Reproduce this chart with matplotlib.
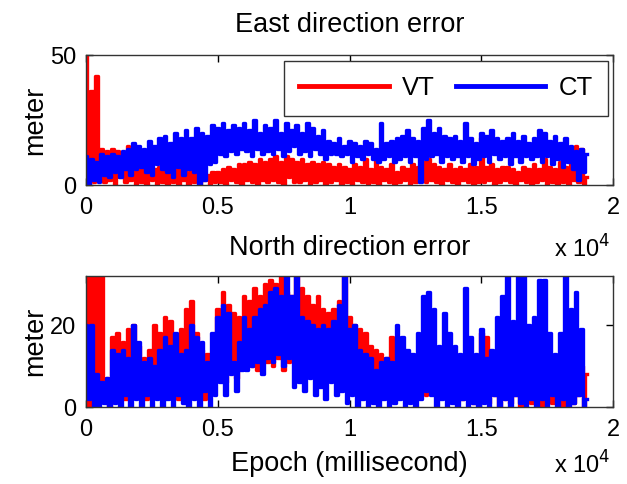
import numpy as np
import matplotlib
matplotlib.use("Agg")
import matplotlib.pyplot as plt

plt.rcParams['font.family'] = ['Liberation Sans', 'DejaVu Sans']

# ---- data (epoch in ms, 100 ms spacing, errors in meters) ----
epoch_step = 100
series_names = ["VT", "CT"]

east_vt = [
    50, 3, 36, 1, 42, 6, 14, 1, 13, 2,
    14, 0, 13, 3, 12, 1, 15, 2, 13, 0,
    9, 1, 7, 0, 8, 2, 6, 0, 7, 1,
    8, 0, 6, 1, 9, 0, 7, 2, 5, 0,
    8, 1, 6, 0, 7, 2, 4, 0, 5, 1,
    5, 1, 6, 0, 7, 2, 6, 1, 8, 0,
    8, 2, 9, 1, 8, 0, 10, 2, 9, 1,
    10, 2, 11, 1, 9, 0, 11, 3, 10, 1,
    9, 1, 10, 2, 8, 0, 9, 1, 8, 2,
    9, 0, 8, 1, 7, 2, 8, 0, 7, 1,
    6, 0, 8, 2, 7, 1, 10, 0, 6, 1,
    11, 0, 7, 2, 6, 1, 8, 0, 5, 1,
    7, 2, 6, 0, 8, 1, 7, 3, 9, 1,
    10, 2, 8, 1, 7, 0, 6, 2, 8, 1,
    6, 0, 7, 2, 6, 1, 8, 0, 7, 1,
    18, 1, 7, 2, 8, 0, 6, 1, 7, 2,
    7, 1, 6, 0, 5, 2, 7, 1, 6, 0,
    8, 1, 6, 2, 10, 0, 7, 1, 6, 0,
    9, 1, 7, 0, 8, 2, 15, 1, 14, 0,
    3,
]

east_ct = [
    11, 0, 10, 2, 9, 1, 12, 4, 11, 3,
    12, 5, 11, 3, 13, 6, 14, 4, 16, 6,
    15, 7, 14, 5, 17, 4, 15, 8, 18, 6,
    19, 5, 16, 3, 20, 7, 18, 4, 21, 6,
    18, 5, 22, 0, 20, 2, 19, 8, 23, 9,
    22, 12, 24, 11, 21, 13, 23, 12, 22, 14,
    24, 13, 21, 11, 25, 14, 20, 12, 23, 13,
    22, 12, 25, 14, 20, 11, 24, 13, 21, 15,
    23, 12, 20, 13, 24, 11, 22, 14, 19, 12,
    21, 10, 17, 12, 16, 12, 18, 11, 15, 12,
    17, 9, 16, 11, 15, 10, 17, 12, 16, 10,
    14, 9, 24, 10, 16, 11, 17, 9, 18, 10,
    19, 11, 21, 9, 18, 11, 17, 1, 22, 10,
    25, 11, 20, 12, 22, 9, 19, 11, 18, 10,
    19, 11, 17, 9, 24, 11, 18, 8, 16, 10,
    20, 11, 19, 9, 21, 12, 18, 10, 17, 11,
    18, 8, 20, 11, 17, 9, 19, 11, 16, 10,
    18, 11, 21, 9, 20, 11, 17, 8, 19, 10,
    16, 7, 18, 9, 15, 6, 13, 2, 14, 5,
    12,
]

north_vt = [
    40, 0, 40, 3, 40, 1, 40, 2, 7, 0,
    17, 3, 18, 5, 16, 2, 19, 6, 20, 4,
    15, 3, 12, 2, 14, 5, 20, 3, 18, 6,
    22, 4, 21, 7, 17, 2, 19, 5, 24, 3,
    26, 6, 18, 4, 14, 2, 13, 5, 12, 8,
    24, 9, 28, 6, 25, 10, 23, 7, 22, 11,
    27, 12, 26, 10, 29, 9, 27, 13, 30, 11,
    31, 10, 30, 12, 35, 9, 28, 11, 27, 13,
    35, 12, 29, 9, 27, 11, 25, 8, 27, 10,
    24, 9, 23, 11, 24, 8, 26, 12, 35, 10,
    22, 9, 20, 12, 19, 10, 18, 7, 15, 9,
    14, 8, 13, 7, 12, 9, 17, 6, 14, 8,
    11, 5, 9, 7, 10, 4, 8, 6, 10, 3,
    10, 5, 9, 3, 8, 6, 7, 2, 8, 4,
    7, 3, 9, 2, 8, 4, 10, 1, 9, 3,
    18, 2, 17, 1, 8, 3, 12, 0, 11, 2,
    17, 1, 10, 3, 11, 0, 9, 2, 10, 1,
    15, 2, 19, 0, 14, 3, 13, 1, 12, 2,
    11, 0, 9, 2, 10, 1, 8, 3, 10, 0,
    8,
]

north_ct = [
    20, 2, 20, 0, 8, 0, 6, 1, 7, 0,
    14, 1, 13, 0, 14, 3, 12, 0, 20, 2,
    16, 0, 11, 3, 12, 0, 10, 2, 14, 0,
    17, 2, 15, 0, 18, 3, 13, 1, 14, 0,
    20, 2, 17, 0, 16, 4, 11, 0, 18, 3,
    22, 6, 25, 3, 23, 8, 11, 4, 16, 9,
    22, 9, 19, 10, 22, 11, 24, 8, 25, 12,
    28, 11, 29, 13, 27, 10, 35, 12, 27, 5,
    35, 6, 22, 4, 21, 7, 20, 3, 19, 5,
    20, 2, 19, 6, 21, 3, 25, 4, 35, 1,
    19, 3, 20, 0, 14, 2, 13, 0, 12, 1,
    9, 0, 11, 2, 12, 0, 11, 1, 20, 2,
    17, 0, 14, 1, 13, 0, 18, 2, 27, 4,
    28, 3, 24, 0, 15, 2, 23, 0, 18, 1,
    15, 0, 13, 2, 29, 0, 17, 1, 13, 0,
    19, 1, 12, 0, 14, 3, 22, 0, 27, 2,
    35, 0, 21, 3, 35, 1, 35, 0, 20, 2,
    22, 0, 31, 2, 31, 0, 18, 3, 13, 0,
    18, 2, 35, 0, 24, 1, 28, 3, 19, 0,
    2,
]

x_ticks = [0, 5000, 10000, 15000, 20000]
x_tick_labels = ["0", "0.5", "1", "1.5", "2"]
east_yticks = [0, 50]
north_yticks = [0, 20]

titles = ["East direction error", "North direction error"]
ylabel = "meter"
xlabel = "Epoch (millisecond)"
colors = {"VT": "#ff0000", "CT": "#0000ff"}

# ---- figure ----
W, H = 627, 484
fig = plt.figure(figsize=(W / 100, H / 100), dpi=100)

def ax_rect(l, t, r, b):
    return [l / W, 1 - b / H, (r - l) / W, (b - t) / H]

ax1 = fig.add_axes(ax_rect(86, 55, 613, 185))
ax2 = fig.add_axes(ax_rect(86, 276, 613, 407))

FS_TICK = 17
FS_LAB = 19.5
FS_LEG = 18.5
lw = 2.4
ds = 'steps-mid'

def fy(py):
    return 1 - py / H

def style(ax, yticks, ymax):
    ax.set_xlim(0, 20000)
    ax.set_ylim(0, ymax)
    ax.set_xticks(x_ticks)
    ax.set_xticklabels(x_tick_labels, fontsize=FS_TICK)
    ax.set_yticks(yticks)
    ax.set_yticklabels([str(v) for v in yticks], fontsize=FS_TICK)
    ax.tick_params(direction='in', top=True, right=True, length=5, width=1, pad=7)
    ax.tick_params(axis='x', pad=9)
    for s in ax.spines.values():
        s.set_linewidth(1.0)
        s.set_color('#333333')
    ax.set_ylabel(ylabel, fontsize=FS_LAB, labelpad=1)

ax1.plot(np.arange(len(east_vt)) * epoch_step, east_vt, color=colors["VT"],
         lw=lw, label="VT", drawstyle=ds)
ax1.plot(np.arange(len(east_ct)) * epoch_step, east_ct, color=colors["CT"],
         lw=lw, label="CT", drawstyle=ds)
style(ax1, east_yticks, 50)

ax2.plot(np.arange(len(north_vt)) * epoch_step, north_vt, color=colors["VT"],
         lw=lw, drawstyle=ds)
ax2.plot(np.arange(len(north_ct)) * epoch_step, north_ct, color=colors["CT"],
         lw=lw, drawstyle=ds)
style(ax2, north_yticks, 32)

cx = (86 + 613) / 2 / W
fig.text(cx, fy(25), titles[0], ha='center', va='center', fontsize=FS_LAB)
fig.text(cx, fy(248), titles[1], ha='center', va='center', fontsize=FS_LAB)
fig.text(cx, fy(464), xlabel, ha='center', va='center', fontsize=FS_LAB)
fig.text(610 / W, fy(258), r'x 10$^{4}$', ha='right', va='baseline', fontsize=FS_TICK)
fig.text(610 / W, fy(474), r'x 10$^{4}$', ha='right', va='baseline', fontsize=FS_TICK)

leg = ax1.legend(loc='upper right', bbox_to_anchor=(1 - 5 / 527, 1 - 6 / 130),
                 ncol=2, fontsize=FS_LEG, handlelength=3.5, handletextpad=0.5,
                 columnspacing=0.8, borderpad=0.6, borderaxespad=0.0,
                 fancybox=False, framealpha=1)
leg.get_frame().set_edgecolor('#333333')
leg.get_frame().set_linewidth(1.0)
for ln in leg.get_lines():
    ln.set_linewidth(3.5)

fig.savefig("out.png", dpi=100)
